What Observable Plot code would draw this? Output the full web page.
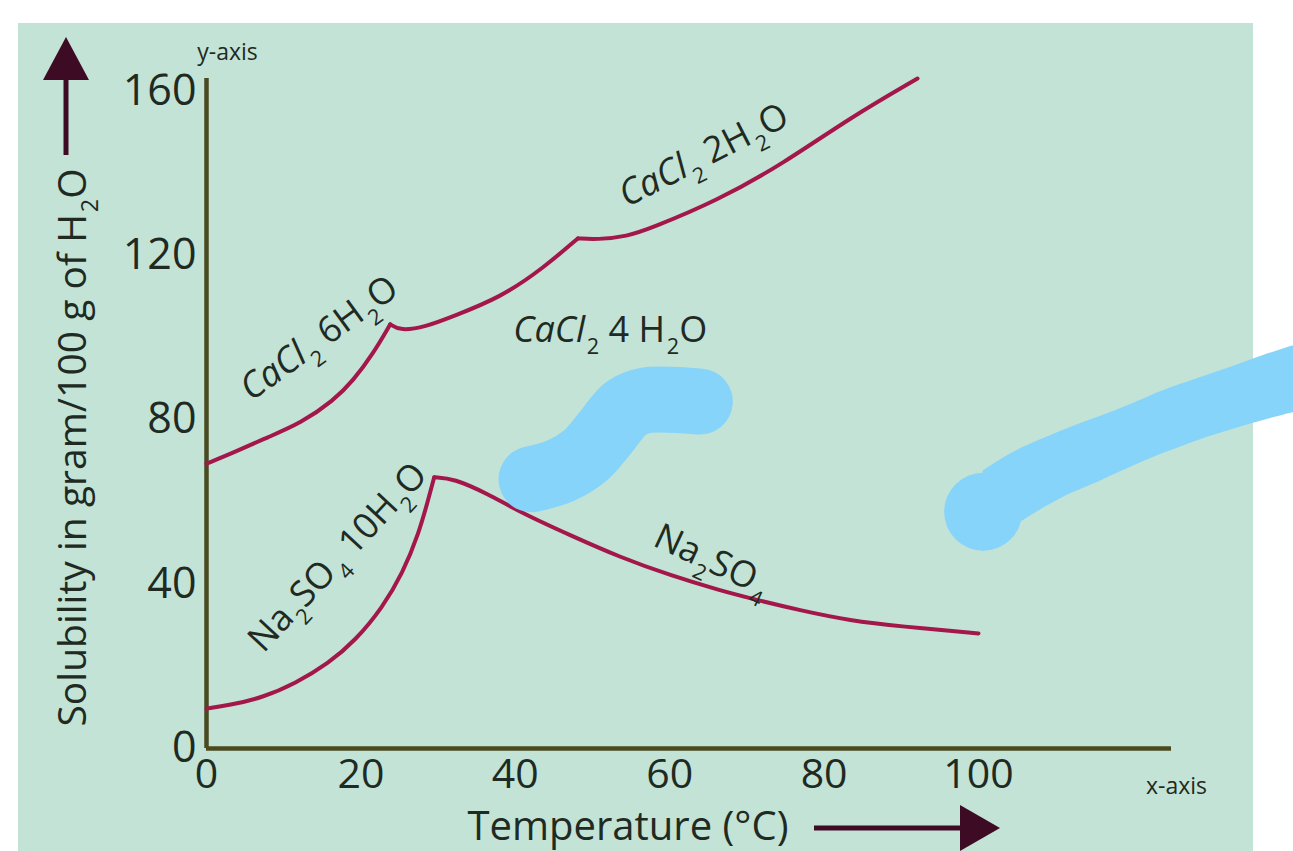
<!DOCTYPE html>
<html>
<head>
<meta charset="utf-8">
<script src="https://cdn.jsdelivr.net/npm/d3@7"></script>
<script src="https://cdn.jsdelivr.net/npm/@observablehq/plot@0.6"></script>
<style>
  html, body { margin: 0; padding: 0; background: #ffffff; }
  #wrap { position: relative; width: 1293px; height: 851px; overflow: hidden; }
  #bg { position: absolute; left: 18px; top: 23px; width: 1235px; height: 828px; background: #c3e3d6; }
  #chart { position: absolute; left: 0; top: 0; }
</style>
</head>
<body>
<div id="wrap"><div id="bg"></div><div id="chart"></div></div>
<script>
// ---------- data ----------
const xTicks = [0, 20, 40, 60, 80, 100];
const yTicks = [0, 40, 80, 120, 160];

const cacl2Temp  = [0, 3.5, 7.9, 12.2, 16.5, 19.0, 21.6, 23.8,
                    23.8, 25.1, 28.4, 31.6, 38.1, 43.7, 48.1,
                    48.1, 50.6, 54.5, 57.5, 66.2, 74.7, 83.4, 92.1];
const cacl2Sol   = [69.3, 72.0, 75.7, 79.1, 84.7, 89.5, 96.1, 103.2,
                    103.2, 101.6, 102.6, 104.9, 109.7, 117.0, 124.1,
                    124.1, 123.8, 124.6, 126.5, 133.3, 142.3, 153.5, 163.0];
const cacl2Phase = ["6H2O","6H2O","6H2O","6H2O","6H2O","6H2O","6H2O","6H2O",
                    "4H2O","4H2O","4H2O","4H2O","4H2O","4H2O","4H2O",
                    "2H2O","2H2O","2H2O","2H2O","2H2O","2H2O","2H2O","2H2O"];

const na2so4Temp  = [0, 2.9, 7.3, 11.5, 15.8, 19.3, 22.8, 25.4, 27.5, 28.8, 29.5,
                     29.5, 32.0, 36.4, 40.7, 47.2, 53.6, 60.1, 66.6, 70.5, 76.9, 83.4, 89.9, 100];
const na2so4Sol   = [9.7, 10.5, 12.4, 15.8, 20.7, 26.3, 34.3, 42.6, 52.3, 61.1, 66.0,
                     66.0, 65.7, 62.0, 57.4, 51.8, 46.5, 42.1, 38.4, 36.5, 33.6, 31.1, 29.7, 28.0];
const na2so4Phase = ["10H2O","10H2O","10H2O","10H2O","10H2O","10H2O","10H2O","10H2O","10H2O","10H2O","10H2O",
                     "anh","anh","anh","anh","anh","anh","anh","anh","anh","anh","anh","anh","anh"];

const labelText  = ["CaCl₂ 6H₂O", "CaCl₂ 2H₂O", "CaCl₂ 4 H₂O", "Na₂SO₄ 10H₂O", "Na₂SO₄"];
const labelTemp  = [14.6, 64.4, 52.3, 17.0, 65.5];
const labelSol   = [99.8, 144.3, 101.7, 46.5, 45.7];
const labelAngle = [-36, -27, 0, -47, 25];

// blue scribbles drawn over the figure
const scribble1Temp = [42.1, 45.9, 49.1, 51.7, 54.3, 56.9, 63.9];
const scribble1Sol  = [65.5, 67.6, 71.3, 76.9, 82.7, 84.7, 84.4];
const scribble2Temp  = [100.6, 104.5, 111.0, 115.4, 119.7, 124.0, 128.4, 132.6, 136.9, 141.7];
const scribble2Upper = [67.5, 72.0, 77.4, 80.5, 83.7, 87.1, 90.0, 92.7, 95.6, 98.5];
const scribble2Lower = [47.7, 53.8, 61.1, 64.7, 68.4, 71.8, 74.9, 77.4, 79.8, 82.2];

// ---------- build tables ----------
const toRows = (T, S, P) => T.map((t, i) => ({t, s: S[i], p: P ? P[i] : "a"}));
const cacl2 = toRows(cacl2Temp, cacl2Sol, cacl2Phase);
const na2so4 = toRows(na2so4Temp, na2so4Sol, na2so4Phase);
const labels = labelText.map((text, i) => ({text, t: labelTemp[i], s: labelSol[i], a: labelAngle[i]}));
const scribble1 = toRows(scribble1Temp, scribble1Sol);
const scribble2 = scribble2Temp.map((t, i) => ({t, lo: scribble2Lower[i], hi: scribble2Upper[i], mid: (scribble2Lower[i] + scribble2Upper[i]) / 2}));

const W = 1293, H = 851;
const mL = 206, mR = 122, mT = 78, mB = 103;
const curveColor = "#a3174a";
const axisColor = "#4a4a20";
const inkColor = "#1f2a22";
const blue = "#87d4fa";
const font = "'Open Sans', 'Noto Sans', sans-serif";

const plot = Plot.plot({
  width: W, height: H,
  marginLeft: mL, marginRight: mR, marginTop: mT, marginBottom: mB,
  style: {background: "transparent", fontFamily: font, color: inkColor, overflow: "visible"},
  x: {domain: [0, 125]},
  y: {domain: [0, 163]},
  marks: [
    Plot.axisX(xTicks, {tickSize: 0, tickPadding: 10, fontSize: 41, label: null}),
    Plot.axisY(yTicks, {tickSize: 0, tickPadding: 10, fontSize: 43, label: null}),
    Plot.ruleY([0], {x1: 0, x2: 125, stroke: axisColor, strokeWidth: 4.5}),
    Plot.ruleX([0], {y1: 0, y2: 163, stroke: axisColor, strokeWidth: 4.5}),
    Plot.line(cacl2, {x: "t", y: "s", z: "p", stroke: curveColor, strokeWidth: 4, curve: "basis"}),
    Plot.line(na2so4, {x: "t", y: "s", z: "p", stroke: curveColor, strokeWidth: 4, curve: "basis"}),
    Plot.text(labels, {x: "t", y: "s", text: "text", rotate: "a", fontSize: 36, fill: inkColor, className: "curve-label"}),
    Plot.text(["Solubility in gram/100 g of H₂O"], {frameAnchor: "left", textAnchor: "middle", lineAnchor: "middle", dx: -133, dy: 34, rotate: -90, fontSize: 39, fill: inkColor, className: "ytitle"}),
    Plot.text(["Temperature (°C)"], {frameAnchor: "bottom", textAnchor: "middle", lineAnchor: "middle", dx: -61, dy: 79, fontSize: 40, fill: inkColor}),
    Plot.text(["y-axis"], {frameAnchor: "top-left", textAnchor: "middle", lineAnchor: "middle", dx: 21, dy: -26, fontSize: 23, fill: inkColor}),
    Plot.text(["x-axis"], {frameAnchor: "bottom-right", textAnchor: "middle", lineAnchor: "middle", dx: 5, dy: 38, fontSize: 23, fill: inkColor}),
    Plot.line(scribble1, {x: "t", y: "s", stroke: blue, strokeWidth: 66, strokeLinecap: "round", strokeLinejoin: "round", curve: "catmull-rom"}),
    Plot.areaY(scribble2, {x: "t", y1: "lo", y2: "hi", fill: blue, curve: "catmull-rom"}),
    Plot.dot(scribble2.slice(0, 1), {x: "t", y: "mid", r: 39, fill: blue})
  ]
});
document.getElementById("chart").append(plot);

// ---------- rich text: italic CaCl and subscripts ----------
const NS = "http://www.w3.org/2000/svg";
function richify(el, fs, italicPrefix) {
  const s = el.textContent;
  while (el.firstChild) el.removeChild(el.firstChild);
  const subs = {"₂": "2", "₄": "4"};
  const runs = [];
  let i = 0;
  if (italicPrefix && s.startsWith(italicPrefix)) { runs.push({t: italicPrefix, it: true, sub: false}); i = italicPrefix.length; }
  for (; i < s.length; i++) {
    const c = s[i];
    const sub = c in subs;
    const ch = sub ? subs[c] : c;
    const last = runs[runs.length - 1];
    if (last && !last.it && last.sub === sub) last.t += ch;
    else runs.push({t: ch, sub, it: false});
  }
  let down = false;
  for (const r of runs) {
    const ts = document.createElementNS(NS, "tspan");
    ts.textContent = r.t;
    if (r.it) ts.setAttribute("font-style", "italic");
    if (r.sub) {
      ts.setAttribute("font-size", fs * 0.6);
      if (!down) { ts.setAttribute("dy", fs * 0.32); down = true; }
      ts.setAttribute("dx", fs * 0.05);
    } else if (down) {
      ts.setAttribute("dy", -fs * 0.32);
      down = false;
    }
    el.appendChild(ts);
  }
}
plot.querySelectorAll("g.curve-label text").forEach(el => richify(el, 36, "CaCl"));
plot.querySelectorAll("g.ytitle text").forEach(el => richify(el, 39, null));

// ---------- axis arrows (decoration) ----------
const svg = d3.select(plot);
const arrowColor = "#3d0b24";
const deco = svg.append("g");
// vertical arrow above the y title
deco.append("line").attr("x1", 66).attr("x2", 66).attr("y1", 155).attr("y2", 76)
  .attr("stroke", arrowColor).attr("stroke-width", 5);
deco.append("polygon").attr("points", "66,37 43,80 89,80").attr("fill", arrowColor);
// horizontal arrow after the x title
deco.append("line").attr("x1", 814).attr("x2", 964).attr("y1", 828).attr("y2", 828)
  .attr("stroke", arrowColor).attr("stroke-width", 5);
deco.append("polygon").attr("points", "1000,828 960,805 960,851").attr("fill", arrowColor);
</script>
</body>
</html>
